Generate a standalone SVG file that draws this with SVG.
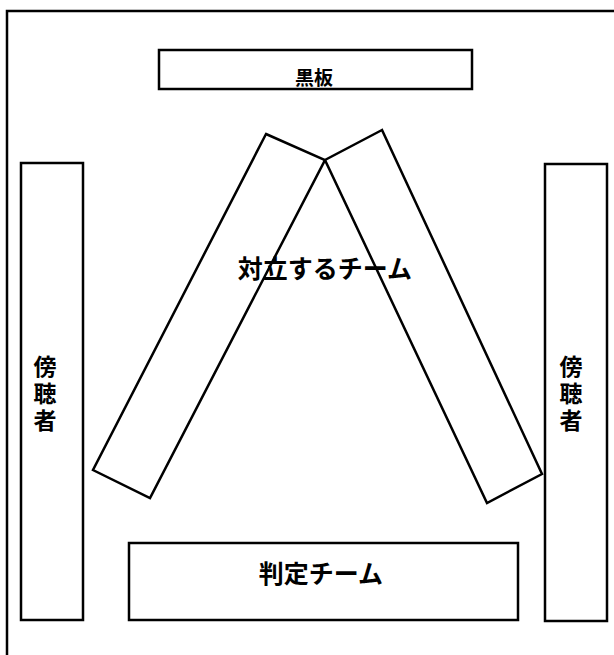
<svg xmlns="http://www.w3.org/2000/svg" width="614" height="655" viewBox="0 0 614 655">
<style>
.box{fill:#fff;stroke:#000;stroke-width:2.5;stroke-linejoin:miter}
.lbl{font-family:"Noto Sans CJK JP","Noto Sans CJK SC",sans-serif;font-weight:bold;fill:#000;text-anchor:middle;dominant-baseline:central}
.v{font-size:23px;writing-mode:vertical-rl;letter-spacing:4px}
</style>
<rect width="614" height="655" fill="#fff"/>
<g id="frame"><rect x="7" y="11" width="640" height="670" fill="none" stroke="#000" stroke-width="2.5"/></g>
<g id="blackboard">
<rect class="box" x="159" y="50" width="313" height="39"/>
<text class="lbl" x="314" y="76" font-size="19">黒板</text>
</g>
<g id="team-left"><polygon class="box" points="266,134 325,160 150,498 93,470"/></g>
<g id="team-right"><polygon class="box" points="382,130 325,160 487,503 542,474"/></g>
<g id="team-label"><text class="lbl" x="325" y="267" font-size="25">対立するチーム</text></g>
<g id="audience-left">
<rect class="box" x="21" y="163" width="62" height="457"/>
<text class="lbl v" x="45" y="395">傍聴者</text>
</g>
<g id="audience-right">
<rect class="box" x="545" y="164" width="62" height="457"/>
<text class="lbl v" x="571" y="395">傍聴者</text>
</g>
<g id="judges">
<rect class="box" x="129" y="543" width="389" height="77"/>
<text class="lbl" x="321" y="572" font-size="25">判定チーム</text>
</g>
<g id="connectors"></g>
</svg>
